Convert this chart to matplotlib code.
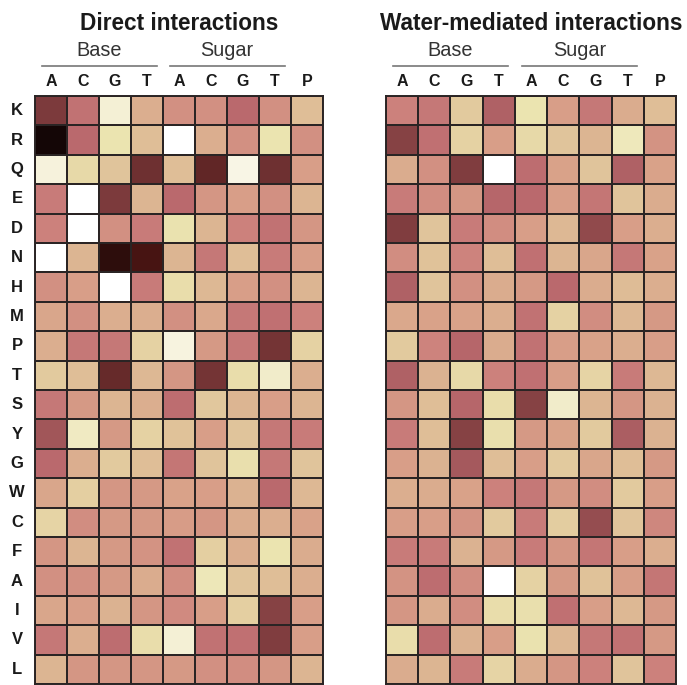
import numpy as np
import matplotlib
matplotlib.use("Agg")
import matplotlib.pyplot as plt
from matplotlib.colors import LinearSegmentedColormap

plt.rcParams['font.family'] = ['Liberation Sans', 'DejaVu Sans']

residues = ["K", "R", "Q", "E", "D", "N", "H", "M", "P", "T",
            "S", "Y", "G", "W", "C", "F", "A", "I", "V", "L"]
columns = ["A", "C", "G", "T", "A", "C", "G", "T", "P"]
groups = ["Base", "Sugar"]
titles = ["Direct interactions", "Water-mediated interactions"]

direct = [
    [8.0, 6.5, 1.5, 4.5, 5.5, 5.5, 6.8, 5.5, 4.0],
    [10., 6.8, 2.5, 4.0, 0.0, 4.5, 5.5, 2.5, 5.5],
    [1.3, 3.0, 3.8, 8.3, 4.0, 8.6, 1.0, 8.3, 5.0],
    [6.2, 0.0, 8.0, 4.3, 6.8, 5.3, 5.0, 5.5, 4.3],
    [6.0, 0.0, 5.5, 6.2, 2.6, 4.3, 6.0, 6.5, 5.3],
    [0.0, 4.3, 9.6, 9.2, 4.3, 6.3, 4.0, 6.2, 5.0],
    [5.5, 5.0, 0.0, 6.2, 2.8, 4.2, 5.0, 5.5, 4.3],
    [4.8, 5.5, 4.5, 4.5, 5.5, 4.7, 6.3, 6.6, 6.0],
    [4.5, 6.3, 6.3, 3.3, 1.2, 5.2, 6.3, 8.2, 3.3],
    [3.6, 4.0, 8.5, 4.2, 5.3, 8.2, 2.8, 1.8, 4.5],
    [6.3, 5.2, 4.3, 4.5, 6.7, 3.7, 4.3, 5.0, 4.3],
    [7.3, 2.0, 5.2, 3.3, 3.9, 5.0, 3.8, 6.3, 6.2],
    [6.8, 4.5, 3.6, 4.0, 6.4, 3.8, 2.7, 6.3, 3.8],
    [4.8, 3.4, 5.3, 5.2, 4.9, 5.0, 4.4, 6.8, 4.2],
    [3.2, 5.6, 5.2, 5.2, 5.1, 5.3, 4.6, 4.5, 4.9],
    [5.3, 4.3, 5.2, 5.4, 6.5, 3.4, 4.5, 2.5, 4.6],
    [5.5, 5.5, 5.2, 4.6, 5.6, 2.3, 3.8, 4.0, 4.5],
    [4.8, 5.0, 4.4, 5.3, 5.7, 5.0, 3.4, 7.8, 5.0],
    [6.3, 4.5, 6.7, 2.8, 1.5, 6.5, 6.6, 7.9, 5.0],
    [4.3, 5.3, 5.3, 5.3, 5.2, 5.5, 5.6, 5.3, 4.3],
]

water = [
    [6.0, 6.3, 3.6, 7.0, 2.5, 5.0, 6.3, 4.6, 4.0],
    [7.8, 6.6, 3.3, 5.0, 3.0, 3.8, 4.3, 2.2, 5.4],
    [4.6, 5.5, 7.9, 0.0, 6.7, 4.9, 3.8, 7.0, 4.9],
    [6.2, 5.6, 5.3, 6.9, 6.8, 5.0, 6.4, 3.8, 4.6],
    [7.9, 3.8, 6.2, 5.6, 5.0, 4.2, 7.6, 5.0, 4.5],
    [5.6, 3.9, 5.9, 4.0, 6.6, 4.3, 4.8, 6.3, 4.9],
    [7.0, 3.8, 5.5, 4.6, 5.2, 6.8, 4.6, 4.1, 4.5],
    [4.7, 4.9, 4.9, 4.5, 6.5, 3.3, 5.6, 4.2, 5.2],
    [3.6, 5.9, 6.9, 4.6, 6.5, 5.0, 4.9, 4.5, 5.0],
    [7.0, 4.4, 3.0, 6.0, 6.6, 5.0, 3.2, 6.2, 4.2],
    [5.3, 4.0, 6.9, 2.8, 7.8, 1.8, 4.3, 5.3, 4.4],
    [6.2, 4.0, 7.8, 2.7, 5.2, 4.9, 3.6, 7.1, 4.4],
    [5.0, 4.4, 7.2, 4.0, 5.0, 3.6, 4.8, 4.0, 5.2],
    [4.5, 4.6, 4.9, 6.0, 6.3, 5.2, 5.6, 3.6, 5.0],
    [5.0, 5.0, 5.4, 3.6, 6.2, 3.5, 7.5, 3.8, 5.8],
    [6.2, 6.2, 4.4, 5.2, 6.2, 5.3, 6.4, 5.0, 4.5],
    [5.4, 6.7, 5.6, 0.0, 3.3, 5.2, 3.9, 5.0, 6.4],
    [5.3, 4.6, 5.6, 2.8, 2.7, 6.6, 5.0, 4.2, 5.2],
    [2.8, 6.7, 4.4, 5.0, 2.6, 4.2, 6.3, 6.5, 5.2],
    [4.6, 4.3, 6.2, 3.2, 4.6, 5.3, 6.0, 3.8, 6.0],
]

cmap = LinearSegmentedColormap.from_list("nt", [
    (0.00, "#ffffff"),
    (0.13, "#f6f2dc"),
    (0.25, "#ebe4b0"),
    (0.35, "#e3cda0"),
    (0.43, "#dcb592"),
    (0.50, "#d89f88"),
    (0.60, "#cc817c"),
    (0.68, "#bb6a6e"),
    (0.80, "#7c3a3c"),
    (0.92, "#481412"),
    (1.00, "#140606"),
])

W, H = 687, 685
fig = plt.figure(figsize=(W / 100, H / 100), dpi=100)

panels = [(35, 96, 288, 588, direct), (386, 96, 290, 588, water)]

for i, (x0, y0, w, h, data) in enumerate(panels):
    ax = fig.add_axes([x0 / W, 1 - (y0 + h) / H, w / W, h / H])
    arr = np.array(data)
    ax.pcolormesh(np.arange(10), np.arange(21), arr, cmap=cmap, vmin=0, vmax=10,
                  edgecolors="#2a2424", linewidth=1.4)
    ax.set_xlim(0, 9)
    ax.set_ylim(20, 0)
    ax.set_xticks([])
    ax.set_yticks([])
    for s in ax.spines.values():
        s.set_linewidth(1.4)
        s.set_color("#2a2424")
    ch = h / 20.0
    # title
    ax.text(4.5, -(y0 - 23) / ch, titles[i], ha="center", va="center",
            fontsize=16.3, fontweight="bold", color="#1a1a1a", clip_on=False)
    # group labels and lines
    for g, gname in enumerate(groups):
        cx = g * 4 + 2
        ax.text(cx, -(y0 - 51) / ch, gname, ha="center", va="center",
                fontsize=14.3, color="#333333", clip_on=False)
        ax.plot([g * 4 + 0.22, g * 4 + 3.8], [-(y0 - 66) / ch] * 2,
                color="#777777", lw=1.2, clip_on=False)
    # column labels
    for j, c in enumerate(columns):
        ax.text(j + 0.5, -(y0 - 82) / ch, c, ha="center", va="center",
                fontsize=11.5, fontweight="bold", color="#1a1a1a", clip_on=False)
    if i == 0:
        for r, name in enumerate(residues):
            ax.text(-(x0 - 17) / (w / 9.0), r + 0.5, name, ha="center", va="center",
                    fontsize=12, fontweight="bold", color="#1a1a1a", clip_on=False)

fig.savefig("out.png", dpi=100)
